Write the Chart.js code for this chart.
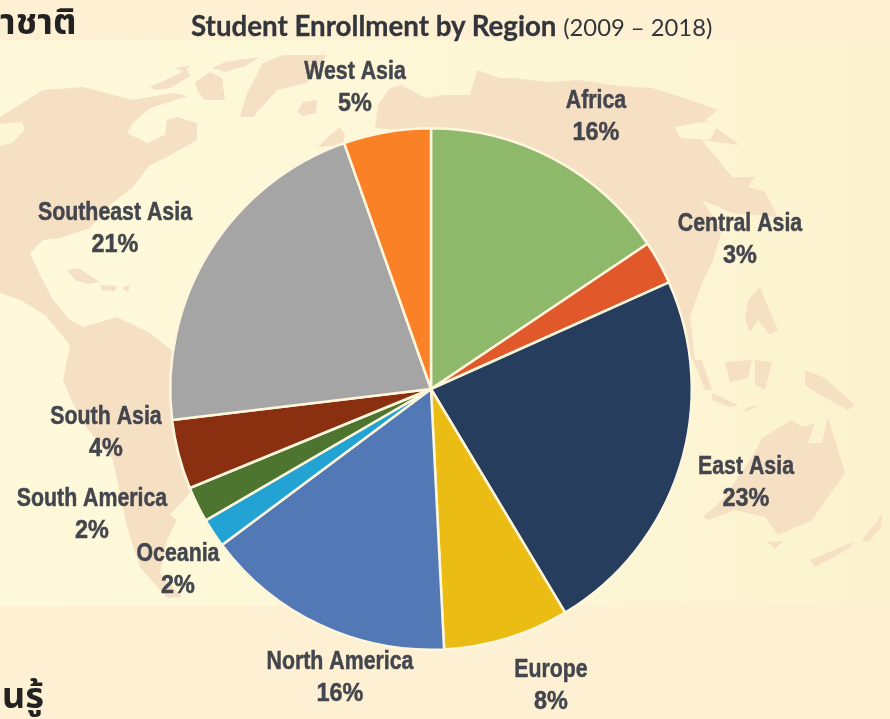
<!DOCTYPE html>
<html>
<head>
<meta charset="utf-8">
<script src="https://cdn.jsdelivr.net/npm/chart.js@4"></script>
<style>
html,body{margin:0;padding:0;width:890px;height:719px;overflow:hidden;background:#FEF1D3;}
#bg{position:absolute;left:0;top:0;}
#wrap{position:absolute;left:0;top:0;width:890px;height:719px;}
.t{position:absolute;white-space:nowrap;color:#2b2d33;}
#title{left:191px;top:9px;font:700 27.7px Lato,"Open Sans",sans-serif;color:#33353c;-webkit-text-stroke:0.3px #33353c;}
#title span{font-weight:400;font-size:23.8px;-webkit-text-stroke:0;}
.thai{font:700 36px "Noto Sans Thai","Noto Sans","DejaVu Sans",sans-serif;color:#222;}
</style>
</head>
<body>
<svg id="bg" width="890" height="719" viewBox="0 0 890 719">
<defs><linearGradient id="g" x1="0" x2="1" y1="0" y2="0"><stop offset="0" stop-color="#FEF9DA"/><stop offset="0.6" stop-color="#FDF7D6"/><stop offset="1" stop-color="#FCF2CF"/></linearGradient></defs>
<rect x="0" y="40" width="890" height="566" fill="url(#g)"/>
<g fill="#F6E0C4" style="filter:blur(0.6px)">
<path d="M0 117L43 90L83 87L133 100L173 93L188 96L150 108L133 123L127 133L147 143L165 135L167 120L177 117L197 123L197 140L167 157L150 165L133 187L110 205L90 228L60 238L43 240L30 253L40 275L53 300L70 320L83 327L117 317L150 333L180 357L175 420L190 493L170 515L177 520L167 540L160 573L182 597L167 598L140 567L127 527L113 460L83 423L70 397L63 380L70 345L45 315L20 300L0 293Z"/>
<path d="M0 124L22 122L25 130L12 143L0 146Z" fill="#FDF7D6"/>
<path d="M67 270L78 268L100 282L88 284L75 280Z"/><path d="M100 285L117 286L115 291L102 290Z"/><path d="M122 288L130 285L128 292Z"/>
<path d="M240 117L247 93L263 63L283 55L327 55L307 83L277 90L253 117Z"/>
<path d="M297 112L303 102L317 100L316 113L303 116Z"/>
<path d="M150 87L165 80L187 70L190 76L170 88L155 90Z"/><path d="M195 82L210 72L222 78L225 100L205 100L198 92Z"/><path d="M212 68L225 62L260 57L245 66L225 72Z"/><path d="M175 68L190 66L185 72Z"/>
<path d="M318 147L330 135L340 127L345 135L343 145Z"/>
<path d="M375 128L378 105L390 88L402 85L425 98L445 95L470 95L477 70L500 78L512 78L550 82L578 80L620 86L652 88L690 100L718 110L705 120L740 145L702 140L732 177L755 177L748 187L765 192L778 217L732 213L702 200L722 230L712 263L702 283L690 317L695 360L600 350L430 300L395 180L400 130Z"/>
<path d="M675 127L702 122L718 124L710 140L680 138Z" fill="#FDF7D6"/>
<path d="M693 360L702 360L712 390L705 390Z"/><path d="M725 362L752 360L748 378L730 382Z"/><path d="M712 393L738 405L730 407L712 400Z"/><path d="M745 408L760 405L745 412Z"/>
<path d="M805 370L825 378L855 405L848 410L820 395L805 385Z"/><path d="M748 300L760 287L765 300L778 330L770 335L758 320L750 332L745 320Z"/><path d="M755 360L772 362L765 390L755 385Z"/>
<path d="M703 517L722 500L752 457L762 438L792 420L802 427L815 423L808 443L822 443L828 417L845 473L812 520L778 535L765 517L735 510L708 520Z"/>
<path d="M767 542L783 541L775 549Z"/><path d="M810 560L853 542L850 548L815 567Z"/><path d="M862 540L878 520L882 513L881 528L868 542Z"/>
</g>
</svg>
<div id="wrap"><canvas id="c" width="890" height="719"></canvas></div>
<div class="t" id="title">Student Enrollment by Region <span>(2009 – 2018)</span></div>
<div class="t thai" style="left:0;top:-4px;">าชาติ</div>
<div class="t thai" style="left:2px;top:670px;">นรู้</div>
<script>
const categories = ["Africa","Central Asia","East Asia","Europe","North America","Oceania","South America","South Asia","Southeast Asia","West Asia"];
const shares = [15.6,2.7,23.1,7.8,15.6,1.8,2.2,4.3,21.5,5.4];
const percentLabels = ["16%","3%","23%","8%","16%","2%","2%","4%","21%","5%"];
const sliceColors = ["#8FB96A","#E1592B","#263D5E","#EABC14","#5279B5","#22A3D4","#4E7530","#8A3011","#A5A5A5","#FB8126"];
const labelAnchors = [[596,101],[740,224],[746,467],[551,670],[340,662],[178,554],[92,499],[106,417],[115,213],[355,72]];

const labelPlugin = {
  id:"sliceLabels",
  afterDatasetsDraw(chart){
    const ctx = chart.ctx;
    ctx.save();
    ctx.textAlign = "center";
    ctx.textBaseline = "middle";
    ctx.fillStyle = "#44464E";
    ctx.strokeStyle = "#44464E";
    ctx.lineWidth = 0.5;
    ctx.font = '700 26px "Liberation Sans",sans-serif';
    categories.forEach((name,i)=>{
      const [x,y] = labelAnchors[i];
      ctx.save();
      ctx.translate(x,y);
      ctx.save();
      ctx.scale(0.82,1);
      ctx.fillText(name,0,0);
      ctx.strokeText(name,0,0);
      ctx.restore();
      ctx.scale(0.9,1);
      ctx.fillText(percentLabels[i],0,32);
      ctx.strokeText(percentLabels[i],0,32);
      ctx.restore();
    });
    ctx.restore();
  }
};

new Chart(document.getElementById("c"),{
  type:"pie",
  data:{labels:categories,datasets:[{data:shares,backgroundColor:sliceColors,borderColor:"#FDF6DC",borderWidth:2.5}]},
  options:{
    responsive:false,animation:false,
    layout:{padding:{left:169,right:197,top:127,bottom:68}},
    plugins:{legend:{display:false},tooltip:{enabled:false},title:{display:false}}
  },
  plugins:[labelPlugin]
});
</script>
</body>
</html>
